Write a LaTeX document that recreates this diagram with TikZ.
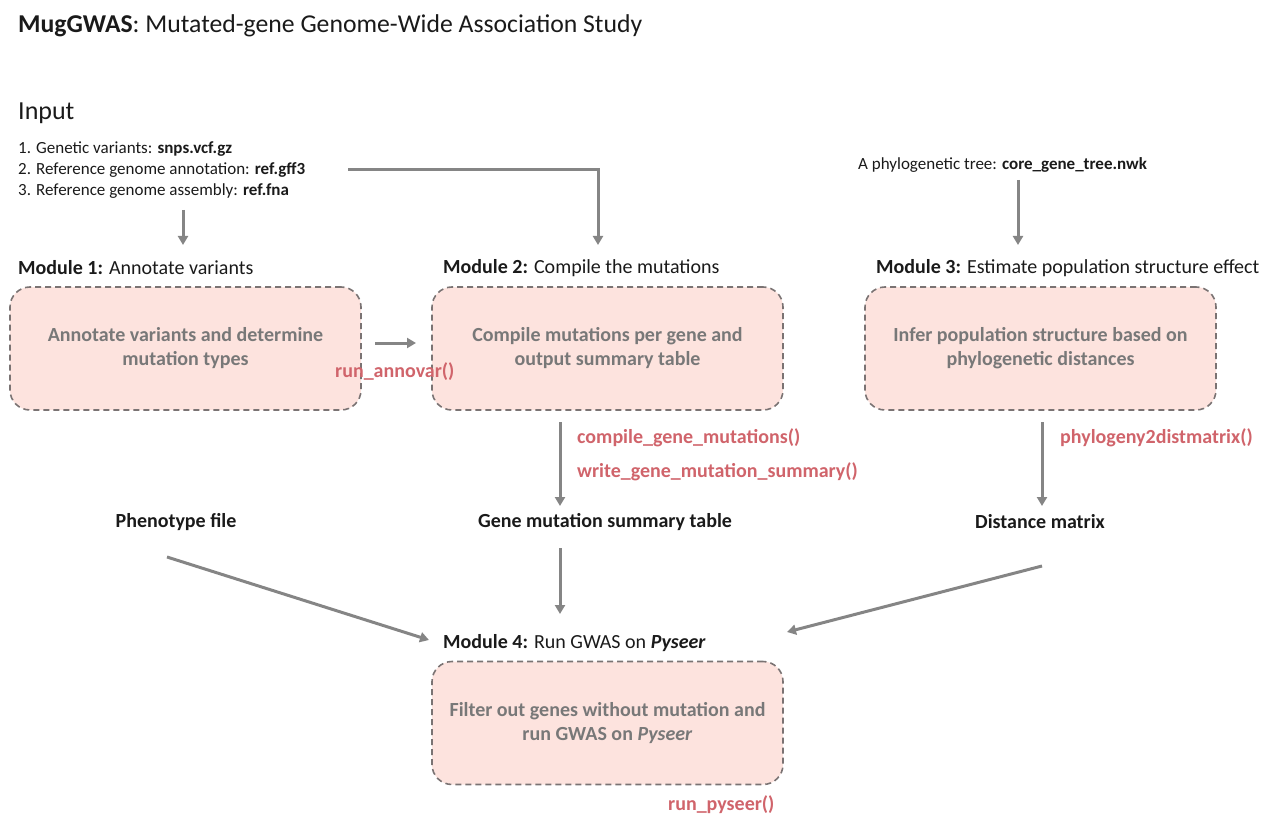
\documentclass[tikz,border=0pt]{standalone}
\usepackage{fontspec}
\setmainfont{Carlito}
\usetikzlibrary{arrows.meta}
\definecolor{ink}{HTML}{1A1A1A}
\definecolor{boxfill}{HTML}{FDE3DE}
\definecolor{boxline}{HTML}{7A7373}
\definecolor{boxtext}{HTML}{787878}
\definecolor{fnred}{HTML}{D0646B}
\definecolor{arr}{HTML}{858585}
\newcommand{\fs}[1]{\fontsize{#1}{#1}\selectfont}
\tikzset{
  lbl/.style={anchor=west, inner sep=0pt, text=ink},
  modbox/.style={draw=boxline, fill=boxfill, dashed, dash pattern=on 6pt off 4pt, line width=1.6pt,
    rounded corners=20pt, minimum width=351pt, minimum height=123pt, align=center,
    text=boxtext, font=\fs{20}\bfseries, inner sep=0pt},
  fn/.style={anchor=west, inner sep=0pt, text=fnred, font=\fs{20}\bfseries},
  flow/.style={draw=arr, line width=3pt, -{Triangle[width=10pt,length=9pt]}},
  outtxt/.style={inner sep=0pt, text=ink, font=\fs{20}\bfseries},
}
\begin{document}
\begin{tikzpicture}[x=1pt,y=-1pt]
\useasboundingbox (0,0) rectangle (1277,829);
% title
\node[lbl, font=\fs{25.7}] (title) at (18,26) {\textbf{MugGWAS}: Mutated-gene Genome-Wide Association Study};
% input
\node[lbl, font=\fs{26}] (input) at (18,113) {Input};
\node[lbl, font=\fs{17}] (in1) at (18,149) {1. Genetic variants: \textbf{snps.vcf.gz}};
\node[lbl, font=\fs{17}] (in2) at (18,170) {2. Reference genome annotation: \textbf{ref.gff3}};
\node[lbl, font=\fs{17}] (in3) at (18,191) {3. Reference genome assembly: \textbf{ref.fna}};
\node[lbl, font=\fs{17}] (tree) at (858,165) {A phylogenetic tree: \textbf{core\_gene\_tree.nwk}};
% module headings
\node[lbl, font=\fs{20}] (m1) at (18,268) {\textbf{Module 1:} Annotate variants};
\node[lbl, font=\fs{20}] (m2) at (443,268) {\textbf{Module 2:} Compile the mutations};
\node[lbl, font=\fs{20}] (m3) at (876,268) {\textbf{Module 3:} Estimate population structure effect};
\node[lbl, font=\fs{20}] (m4) at (443,643) {\textbf{Module 4:} Run GWAS on \textbf{\textit{Pyseer}}};
% boxes
\node[modbox] (b1) at (185.5,348.5) {Annotate variants and determine\\[4pt]mutation types};
\node[modbox] (b2) at (607.5,348.5) {Compile mutations per gene and\\[4pt]output summary table};
\node[modbox] (b3) at (1040.5,348.5) {Infer population structure based on\\[4pt]phylogenetic distances};
\node[modbox] (b4) at (607.5,723) {Filter out genes without mutation and\\[4pt]run GWAS on \textit{Pyseer}};
% function labels
\node[fn] (f1) at (335,372) {run\_annovar()};
\node[fn] (f2) at (577,438) {compile\_gene\_mutations()};
\node[fn] (f3) at (577,472) {write\_gene\_mutation\_summary()};
\node[fn] (f4) at (1060,438) {phylogeny2distmatrix()};
\node[fn] (f5) at (668,805) {run\_pyseer()};
% outputs
\node[outtxt] (pheno) at (176,522) {Phenotype file};
\node[outtxt] (gmst) at (605,522) {Gene mutation summary table};
\node[outtxt] (dist) at (1040,522) {Distance matrix};
% helper coordinates
\coordinate (a1s) at (183,210);
\coordinate (a1e) at (183,245);
\coordinate (a2s) at (348,170);
\coordinate (a2c) at (598,170);
\coordinate (a2e) at (598,245);
\coordinate (a3s) at (1018,180);
\coordinate (a3e) at (1018,245);
\coordinate (a4s) at (375,343);
\coordinate (a4e) at (416,343);
\coordinate (a5s) at (560,422);
\coordinate (a5e) at (560,506);
\coordinate (a6s) at (1042,422);
\coordinate (a6e) at (1042,506);
\coordinate (a7s) at (560,548);
\coordinate (a7e) at (560,614);
\coordinate (a8s) at (167,557);
\coordinate (a8e) at (429,640);
\coordinate (a9s) at (1042,566);
\coordinate (a9e) at (787,632);
% arrows
\draw[flow] (a1s) -- (a1e);
\draw[flow] (a2s) -- (a2c) -- (a2e);
\draw[flow] (a3s) -- (a3e);
\draw[flow] (a4s) -- (a4e);
\draw[flow] (a5s) -- (a5e);
\draw[flow] (a6s) -- (a6e);
\draw[flow] (a7s) -- (a7e);
\draw[flow] (a8s) -- (a8e);
\draw[flow] (a9s) -- (a9e);
\end{tikzpicture}
\end{document}
